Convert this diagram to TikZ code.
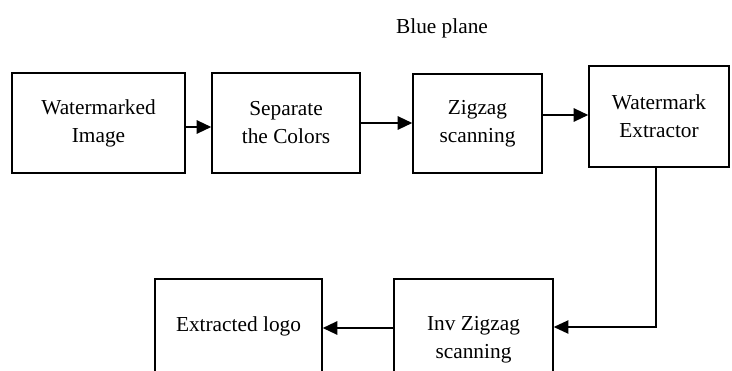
\documentclass[tikz,border=0pt]{standalone}
\usepackage{fontspec}
\setmainfont{Liberation Serif}
\usetikzlibrary{arrows.meta}
\tikzset{
  blk/.style={draw, line width=1.1pt, align=center, inner sep=0pt,
    font=\fontsize{16}{21}\selectfont},
  arr/.style={line width=1.6pt, -{Triangle[length=11pt,width=10pt]}},
  thin/.style={line width=1pt, -{Triangle[length=11pt,width=10pt]}}
}
\begin{document}
\begin{tikzpicture}[x=0.75pt,y=-0.75pt]
\clip (0,0) rectangle (732,371);
\node[font=\fontsize{16}{18}\selectfont] (title) at (442,28) {Blue plane};
\node[blk, minimum width=129.75pt, minimum height=75pt] (b1) at (98.5,123) {Watermarked\\Image};
\node[blk, minimum width=111pt, minimum height=75pt] (b2) at (286,123) {Separate\\the Colors};
\node[blk, minimum width=96.75pt, minimum height=74.25pt] (b3) at (477.5,123.5) {Zigzag\\scanning};
\node[blk, minimum width=105pt, minimum height=75.75pt] (b4) at (659,116.5) {Watermark\\Extractor};
\node[blk, minimum width=119.25pt, minimum height=91.5pt] (b5) at (473.5,340) {Inv Zigzag\\scanning};
\node[blk, minimum width=125.25pt, minimum height=70.5pt] (b6) at (238.5,326) {Extracted logo};
\draw[arr] (b1.east |- 0,127) -- (b2.west |- 0,127);
\draw[arr] (b2.east |- 0,123) -- (b3.west |- 0,123);
\draw[arr] (b3.east |- 0,115) -- (b4.west |- 0,115);
\coordinate (turn) at (656,327);
\draw[thin] (b4.south -| turn) -- (turn) -- (b5.east |- turn);
\draw[arr] (b5.west |- 0,328) -- (b6.east |- 0,328);
\end{tikzpicture}
\end{document}
